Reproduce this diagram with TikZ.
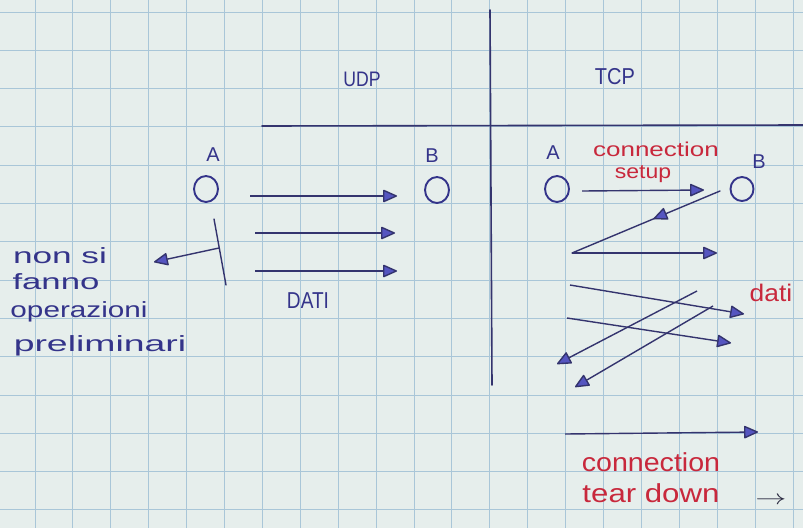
\documentclass[tikz,border=0pt]{standalone}
\usepackage{fontspec}
\usepackage{graphicx}
\setmainfont{Liberation Sans}
\usetikzlibrary{arrows.meta,shapes.geometric,decorations.markings}

\definecolor{paper}{HTML}{E6EEEC}
\definecolor{gridblue}{HTML}{A9C6D8}
\definecolor{ink}{HTML}{34348A}
\definecolor{shaft}{HTML}{34346E}
\definecolor{tipfill}{HTML}{5555C0}
\definecolor{redink}{HTML}{C8283C}
\definecolor{darkink}{HTML}{2A2A40}

\tikzset{
  gridline/.style={draw=gridblue, line width=0.9pt},
  rule/.style={draw=shaft, line width=1.6pt, line cap=round},
  station/.style={ellipse, draw=ink, line width=1.9pt, minimum width=24pt,
                  minimum height=26pt, inner sep=0pt},
  hand/.style={text=ink, inner sep=0pt},
  rednote/.style={text=redink, inner sep=0pt},
  msg/.style={draw=shaft, line width=1.4pt,
    -{Triangle[length=15pt,width=13pt,fill=tipfill,round]}},
  midmsg/.style={draw=shaft, line width=1.4pt,
    decoration={markings, mark=at position #1 with
      {\arrow{Triangle[length=15pt,width=13pt,fill=tipfill,round]}}},
    postaction={decorate}},
}

\begin{document}
\begin{tikzpicture}[x=1pt,y=-1pt]
\useasboundingbox (0,0) rectangle (803,528);
\fill[paper] (0,0) rectangle (803,528);

% squared paper
\foreach \k in {-1,...,20}
  \draw[gridline] ({35+37.9*\k},0) -- ({35+37.9*\k},528);
\foreach \k in {0,...,13}
  \draw[gridline] (0,{12+38.3*\k}) -- (803,{12+38.3*\k});

% column dividers
\coordinate (vtop) at (490,10);
\coordinate (vbot) at (492,385);
\coordinate (hl) at (262,126);
\coordinate (hr) at (803,125);
\draw[rule] (vtop) -- (vbot);
\draw[rule] (hl) -- (hr);

% headings
\node[hand, font=\fontsize{21}{22}\selectfont] (udp) at (362,79) {\scalebox{0.84}[1]{UDP}};
\node[hand, font=\fontsize{23}{24}\selectfont] (tcp) at (615,77) {\scalebox{0.87}[1]{TCP}};

% ---------- UDP ----------
\node[station] (uA) at (206,189) {};
\node[hand, font=\fontsize{20}{20}\selectfont] (uAl) at (213,155) {A};
\node[station] (uB) at (437,190) {};
\node[hand, font=\fontsize{20}{20}\selectfont] (uBl) at (432,156) {B};

\coordinate (u1s) at (250,196); \coordinate (u1e) at (397,196);
\coordinate (u2s) at (255,233); \coordinate (u2e) at (395,233);
\coordinate (u3s) at (255,271); \coordinate (u3e) at (397,271);
\draw[msg] (u1s) -- (u1e);
\draw[msg] (u2s) -- (u2e);
\draw[msg] (u3s) -- (u3e);
\node[hand, font=\fontsize{23}{24}\selectfont] (dati) at (308,301) {\scalebox{0.83}[1]{DATI}};

% no preliminary handshake
\coordinate (barT) at (214,219);
\coordinate (barB) at (226,285);
\coordinate (barM) at (219,248);
\coordinate (noteTip) at (154,262);
\draw[draw=shaft, line width=1.4pt, line cap=round] (barT) -- (barB);
\draw[msg] (barM) -- (noteTip);

\node[hand, font=\fontsize{22}{22}\selectfont] (n1) at (60,256) {\scalebox{1.6}[1]{non si}};
\node[hand, font=\fontsize{22}{22}\selectfont] (n2) at (56,282) {\scalebox{1.58}[1]{fanno}};
\node[hand, font=\fontsize{22}{22}\selectfont] (n3) at (79,312) {\scalebox{1.35}[1]{operazioni}};
\node[hand, font=\fontsize{22}{22}\selectfont] (n4) at (100,346) {\scalebox{1.7}[1]{preliminari}};

% ---------- TCP ----------
\node[station] (tA) at (557,189) {};
\node[hand, font=\fontsize{20}{20}\selectfont] (tAl) at (553,153) {A};
\node[station, minimum width=23pt, minimum height=24pt] (tB) at (742,189) {};
\node[hand, font=\fontsize{20}{20}\selectfont] (tBl) at (759,162) {B};

\node[rednote, font=\fontsize{20}{20}\selectfont] (cs1) at (656,149) {\scalebox{1.3}[1]{connection}};
\node[rednote, font=\fontsize{20}{20}\selectfont] (cs2) at (643,174) {\scalebox{1.15}[1]{setup}};

% three-way handshake
\coordinate (h1s) at (582,191); \coordinate (h1e) at (704,190);
\coordinate (h2s) at (720,191); \coordinate (h2e) at (572,253);
\coordinate (h3e) at (717,253);
\draw[msg] (h1s) -- (h1e);
\draw[midmsg=0.45, line cap=round] (h2s) -- (h2e);
\draw[msg] (h2e) -- (h3e);

% data exchange
\coordinate (d1s) at (570,285); \coordinate (d1e) at (744,314);
\coordinate (d2s) at (567,318); \coordinate (d2e) at (731,343);
\coordinate (d3s) at (697,291); \coordinate (d3e) at (557,364);
\coordinate (d4s) at (713,306); \coordinate (d4e) at (575,387);
\draw[msg] (d1s) -- (d1e);
\draw[msg] (d2s) -- (d2e);
\draw[msg] (d3s) -- (d3e);
\draw[msg] (d4s) -- (d4e);
\node[rednote, font=\fontsize{24}{24}\selectfont] (dl) at (771,293) {\scalebox{1.1}[1]{dati}};

% teardown
\coordinate (t1s) at (565,434); \coordinate (t1e) at (758,432);
\draw[msg] (t1s) -- (t1e);
\node[rednote, font=\fontsize{26}{26}\selectfont] (ct1) at (651,462) {\scalebox{1.1}[1]{connection}};
\node[rednote, font=\fontsize{26}{26}\selectfont] (ct2) at (651,493) {\scalebox{1.2}[1]{tear down}};
\node[text=darkink, inner sep=0pt, font=\fontsize{20}{20}\selectfont] (more) at (771,501) {\scalebox{1.5}[1]{$\rightarrow$}};
\end{tikzpicture}
\end{document}
